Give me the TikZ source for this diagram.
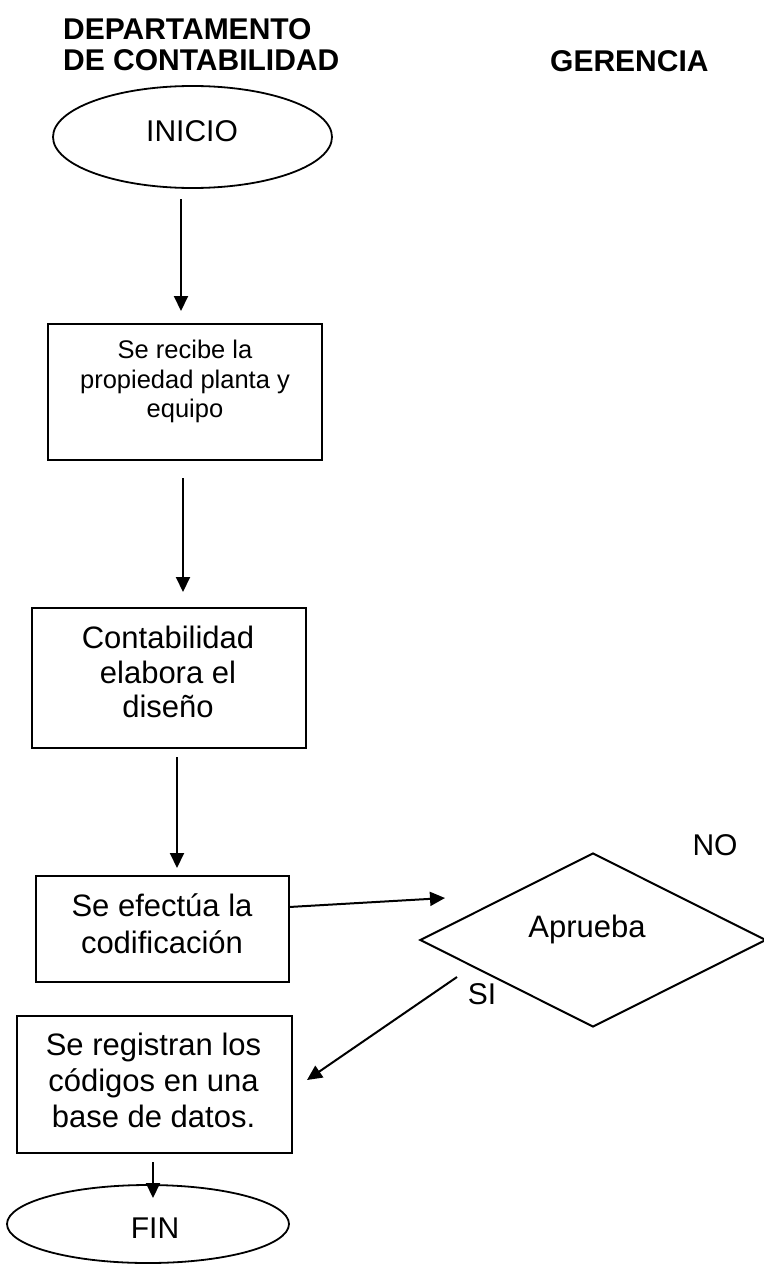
\documentclass[tikz,border=0pt]{standalone}
\usepackage{fontspec}
\setmainfont{Liberation Sans}
\usetikzlibrary{arrows.meta,shapes.geometric}

\begin{document}
\begin{tikzpicture}[x=1pt,y=-1pt,
  box/.style={draw, line width=2pt, inner sep=0pt},
  term/.style={draw, ellipse, line width=1.8pt, inner sep=0pt},
  decision/.style={draw, diamond, line width=2pt, inner sep=0pt},
  txt/.style={inner sep=0pt, anchor=north, align=center, font=\fontsize{31}{36}\selectfont},
  small/.style={inner sep=0pt, anchor=north, align=center, font=\fontsize{25.5}{29.5}\selectfont},
  word/.style={inner sep=0pt, anchor=base, font=\fontsize{30}{36}\selectfont},
  head/.style={inner sep=0pt, anchor=base west, font=\bfseries\fontsize{30}{31}\selectfont},
  flow/.style={line width=2pt, -{Triangle[length=15pt,width=14pt]}}]

\useasboundingbox (0,0) rectangle (763,1266);

% column headings
\node[head] (h1) at (63,39) {DEPARTAMENTO};
\node[head] (h2) at (63,70) {DE CONTABILIDAD};
\node[head] (h3) at (550,71) {GERENCIA};

% shapes
\node[term, minimum width=279pt, minimum height=102pt] (inicio) at (192.5,137) {};
\node[box, minimum width=274pt, minimum height=136pt] (recibe) at (185,392) {};
\node[box, minimum width=274pt, minimum height=140pt] (disenio) at (169,678) {};
\node[box, minimum width=253pt, minimum height=106pt] (codif) at (162.5,929) {};
\node[decision, minimum width=346pt, minimum height=174pt] (aprueba) at (593,940) {};
\node[box, minimum width=275pt, minimum height=137pt] (registro) at (154.5,1084.5) {};
\node[term, minimum width=282pt, minimum height=78pt] (fin) at (148,1224) {};

% texts
\node[word] (tinicio) at (192,141) {INICIO};
\node[small] (trecibe) at (185,340) {Se recibe la\\propiedad planta y\\equipo};
\node[txt, font=\fontsize{31}{34.5}\selectfont] (tdisenio) at (168,626) {Contabilidad\\elabora el\\diseño};
\node[txt, font=\fontsize{31}{37}\selectfont] (tcodif) at (162,893) {Se efectúa la\\codificación};
\node[word, font=\fontsize{31}{36}\selectfont] (taprueba) at (587,937) {Aprueba};
\node[txt] (tregistro) at (153.5,1033) {Se registran los\\códigos en una\\base de datos.};
\node[word] (tfin) at (155,1238) {FIN};
\node[word] (tno) at (715,855) {NO};
\node[word] (tsi) at (482,1004) {SI};

% connector ends
\coordinate (a1s) at (181,199);  \coordinate (a1e) at (181,311);
\coordinate (a2s) at (183,478);  \coordinate (a2e) at (183,592);
\coordinate (a3s) at (177,757);  \coordinate (a3e) at (177,868);
\coordinate (a4s) at (289,907);  \coordinate (a4e) at (445,898);
\coordinate (a5s) at (457,977);  \coordinate (a5e) at (307,1080);
\coordinate (a6s) at (153,1162); \coordinate (a6e) at (153,1198);

% connectors
\draw[flow] (a1s) -- (a1e);
\draw[flow] (a2s) -- (a2e);
\draw[flow] (a3s) -- (a3e);
\draw[flow] (a4s) -- (a4e);
\draw[flow] (a5s) -- (a5e);
\draw[flow] (a6s) -- (a6e);
\end{tikzpicture}
\end{document}
